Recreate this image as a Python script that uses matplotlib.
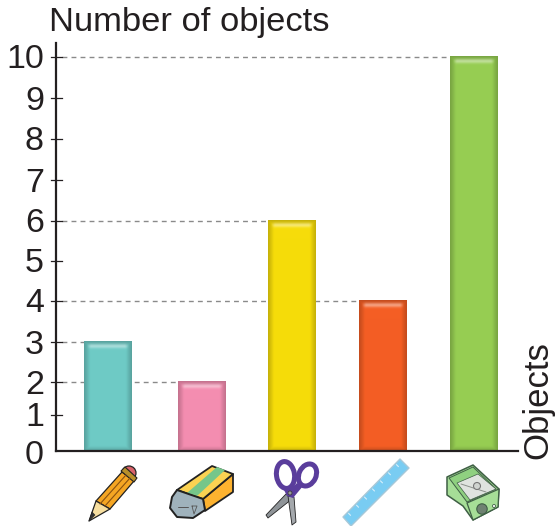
import numpy as np
import matplotlib
matplotlib.use("Agg")
from matplotlib import pyplot as plt
from matplotlib.patches import Polygon, Circle, Ellipse

W, H = 556, 526

# chart data
objects = ["pencil", "eraser", "scissors", "ruler", "sharpener"]
counts = [3, 2, 6, 4, 10]
bar_colors = ["#6ecac5", "#f48db0", "#f6dc0a", "#f45e24", "#96cd52"]
y_ticks = list(range(0, 11))

# the printed axis is not evenly spaced, pixel row of each tick
tick_rows = [451, 415, 382, 342, 301, 261, 221, 180, 139, 98, 57]
bar_centers = [108, 202, 292, 383, 474]
bar_width = 48
ink = "#231f20"

plt.rcParams["font.family"] = ["Liberation Sans", "DejaVu Sans"]

fig = plt.figure(figsize=(W / 100, H / 100), dpi=100)
ax = fig.add_axes([0, 0, 1, 1])
ax.axis("off")


def row(v):
    return np.interp(v, y_ticks, tick_rows)


def draw_bar(cx, val, color):
    top = row(val) - 1
    bottom = row(0) + 1
    h = int(bottom - top) * 2
    w = bar_width * 2
    yy, xx = np.mgrid[0:h, 0:w]
    xx = (xx + 0.5) / 2
    yy = (yy + 0.5) / 2
    img = np.ones((h, w, 3)) * matplotlib.colors.to_rgb(color)
    # bevel: dark rim fading in to the flat colour
    side = np.minimum(xx, bar_width - xx)
    depth = np.minimum(side, np.minimum(yy, h / 2 - yy))
    fade = np.clip(depth / 6, 0, 1) ** 1.2
    img = img * (0.8 + 0.2 * fade)[..., None]
    # soft highlight along the top
    glow = np.exp(-((yy - 5) / 2.2) ** 2) * np.clip((side - 3) / 4, 0, 1)
    img = img + (1 - img) * (0.42 * glow)[..., None]
    ax.imshow(img, extent=[cx - bar_width / 2, cx + bar_width / 2, bottom, top],
              aspect="auto", interpolation="bilinear", zorder=3)


def outline(pts, fc, lw=1.4, ec="#222222", z=5):
    ax.add_patch(Polygon(pts, closed=True, fc=fc, ec=ec, lw=lw, joinstyle="round", zorder=z))


def stroke(xs, ys, color="#222222", lw=0.8, z=6):
    ax.plot(xs, ys, color=color, lw=lw, zorder=z, solid_capstyle="round")


def draw_pencil():
    ax.add_patch(Circle((129, 473), 7, fc="#d9626a", ec="#222222", lw=0.9, zorder=5))
    outline([(121, 471), (125, 467), (137, 478), (134, 482)], "#b8902a", lw=0.8, z=6)
    outline([(96, 501), (122, 472), (134, 481), (110, 509)], "#f5a623", lw=0.9)
    outline([(89, 521), (96, 501), (110, 509)], "#f7dfa0", lw=0.9)
    outline([(89, 521), (92, 512), (95, 515)], "#333333", lw=0.4, z=6)
    stroke([100, 126], [504, 475], color="#8a5210")
    stroke([105, 130], [506, 478], color="#8a5210")


def draw_eraser():
    outline([(203, 499), (233, 474), (233, 492), (205, 511)], "#fdb22f", lw=1.3)
    outline([(177, 490), (212, 466), (233, 474), (203, 499)], "#fbd252", lw=1.3)
    outline([(187, 493), (217, 467), (225, 470), (197, 496)], "#76c68a", lw=0, z=6)
    outline([(177, 490), (203, 499), (205, 510), (193, 518), (177, 517), (170, 508), (172, 497)],
            "#9fb2bc", lw=1.4, z=7)
    stroke([178, 188], [507, 507], color="#555555", lw=0.7, z=8)
    stroke([192, 197, 194, 192], [506, 506, 514, 506], color="#555555", lw=0.6, z=8)


def draw_scissors():
    outline([(286, 494), (292, 499), (268, 518), (266, 515)], "#8f9498", lw=0.6)
    outline([(288, 496), (294, 497), (296, 522), (292, 525)], "#a4a8ac", lw=0.6)
    ax.add_patch(Ellipse((285.5, 475), 18, 27, angle=-8, fc="white", ec="#5a3d9c", lw=3.6, zorder=5))
    ax.add_patch(Ellipse((307.5, 475), 17, 23, angle=25, fc="white", ec="#5a3d9c", lw=3.6, zorder=5))
    outline([(282, 486), (289, 486), (292, 488), (297, 483), (303, 486), (293, 498), (287, 496)],
            "#5a3d9c", lw=0, z=6)
    ax.add_patch(Circle((290, 493), 2, fc="#999999", ec="#333333", lw=0.5, zorder=7))


def draw_ruler():
    outline([(343, 517), (400, 459), (409, 468), (351, 526)], "#79ccf2", ec="#a8c8d8", lw=1)
    for t in np.linspace(0.08, 0.92, 7):
        x, y = 343 + 57 * t, 517 - 58 * t
        stroke([x + 1, x + 3], [y + 1, y + 3], color="#d8effa", lw=0.8)


def draw_sharpener():
    gc = "#3f5f45"
    outline([(447, 477), (473, 465), (499, 489), (498, 507), (473, 520), (463, 506), (447, 495)],
            "#a6de97", ec=gc, lw=1.1)
    outline([(449, 478), (473, 467), (496, 489), (467, 502)], "#8fd080", ec=gc, lw=0.7)
    outline([(457, 483), (478, 474), (496, 489), (470, 500)], "#dfe3df", ec=gc, lw=0.5, z=6)
    stroke([461, 486], [484, 492], color="#8a8f8a", lw=0.7, z=7)
    ax.add_patch(Circle((477, 486), 3.5, fc="#cfd3cf", ec="#777777", lw=0.8, zorder=7))
    outline([(467, 503), (499, 489), (498, 507), (473, 520)], "#a6de97", ec=gc, lw=0.9)
    ax.add_patch(Circle((482, 509), 5.2, fc="#6f8272", ec=gc, lw=0.8, zorder=7))
    ax.add_patch(Circle((494, 506), 1.5, fc="white", ec=gc, lw=0.6, zorder=7))


# dashed guides stop at the bar they belong to
for v, c in zip(counts, bar_centers):
    ax.plot([62, c], [row(v), row(v)], color="#8a8a8a", lw=1, dashes=(3.5, 3), zorder=1)

for c, v, col in zip(bar_centers, counts, bar_colors):
    draw_bar(c, v, col)
ax.set_xlim(0, W)
ax.set_ylim(H, 0)

# axes
ax.plot([56, 56], [43, row(0)], color=ink, lw=1.6, zorder=4, solid_capstyle="projecting")
ax.plot([56, 518], [row(0), row(0)], color=ink, lw=1.6, zorder=4)
for t in y_ticks[1:]:
    ax.plot([51, 62], [row(t), row(t)], color=ink, lw=0.9, zorder=4)
for t in y_ticks:
    ax.text(44, row(t) + (1 if t == 0 else -0.5), str(t), ha="right", va="center_baseline",
            fontsize=24.5, color=ink)

ax.text(49, 31, "Number of objects", ha="left", va="baseline", fontsize=24.8, color=ink)
ax.text(538, 400, "Objects", rotation=90, ha="center", va="center", fontsize=25, color=ink)

draw_pencil()
draw_eraser()
draw_scissors()
draw_ruler()
draw_sharpener()

fig.savefig("out.png", dpi=100)
